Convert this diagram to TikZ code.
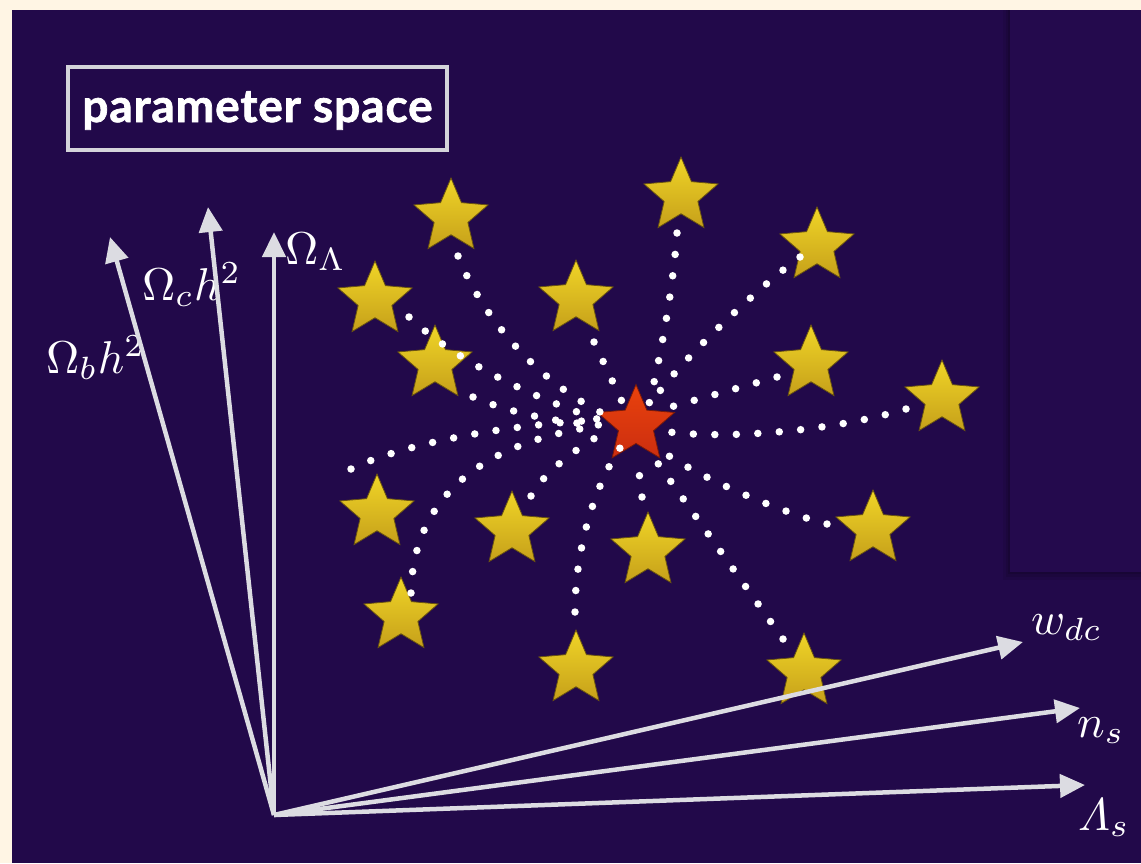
\documentclass[tikz,border=0pt]{standalone}
\usepackage{amsmath}
\usepackage{graphicx}
\usepackage{fontspec}
\usetikzlibrary{shapes.geometric,arrows.meta,calc}
\newfontfamily\titlefont{Lato}[LetterSpace=2.0, FakeBold=1.6]
\newcommand{\bigmath}[1]{\scalebox{4.6}{$#1$}}
\definecolor{cream}{HTML}{FFF5E4}
\definecolor{bgpurple}{HTML}{22094A}
\definecolor{panelpurple}{HTML}{240A4D}
\definecolor{axisgray}{HTML}{DCDCE2}
\definecolor{boxgray}{HTML}{D4D4DA}
\definecolor{starTop}{HTML}{F0D527}
\definecolor{starBot}{HTML}{C6A01A}
\definecolor{starEdge}{HTML}{6B5410}
\definecolor{redTop}{HTML}{E9420C}
\definecolor{redBot}{HTML}{CC2E10}
\definecolor{redEdge}{HTML}{7A1A08}
\begin{document}
\begin{tikzpicture}[x=1pt,y=-1pt,
  ystar/.style={star, star points=5, star point ratio=2.2, minimum size=78pt, inner sep=0pt,
    top color=starTop, bottom color=starBot, draw=starEdge, line width=0.8pt},
  rstar/.style={ystar, minimum size=81pt, top color=redTop, bottom color=redBot, draw=redEdge},
  dots/.style={white, line width=7.5pt, line cap=round, dash pattern=on 0pt off 21.5pt},
  axis/.style={axisgray, line width=4.5pt, -{Triangle[length=25pt,width=23pt]}},
  axlabel/.style={text=white, inner sep=0pt, font=\fontsize{10}{12}\selectfont},
  titlebox/.style={draw=boxgray, line width=4pt, minimum width=379pt, minimum height=83pt, inner sep=0pt},
  titletext/.style={text=white, inner sep=0pt, font=\titlefont\bfseries\fontsize{46}{54}\selectfont},
]
\useasboundingbox (0,0) rectangle (1141,863);
\fill[cream] (0,0) rectangle (1141,863);
\fill[bgpurple] (12,10) rectangle (1141,863);
% right panel with soft shadow
\fill[black, opacity=0.07] (1003,10) rectangle (1141,580);
\fill[black, opacity=0.09] (1006,10) rectangle (1141,577);
\fill[black, opacity=0.12] (1008,10) rectangle (1141,574);
\fill[panelpurple] (1010,10) rectangle (1141,572);
% title
\node[titlebox] (title) at (257.5,108.5) {};
\node[titletext, anchor=base] (titletxt) at (257.5,122) {parameter space};
% stars
\node[ystar] (A) at (451,217) {};
\node[ystar] (E) at (681,196) {};
\node[ystar] (F) at (817,246) {};
\node[ystar] (B) at (375,300) {};
\node[ystar] (C) at (576,299) {};
\node[ystar] (D) at (435,364) {};
\node[ystar] (G) at (811,364) {};
\node[ystar] (H) at (942,399) {};
\node[ystar] (I) at (377,513) {};
\node[ystar] (J) at (512,530) {};
\node[ystar] (N) at (873,529) {};
\node[ystar] (K) at (401,616) {};
\node[ystar] (M) at (648,551) {};
\node[ystar] (L) at (576,669) {};
\node[ystar] (O) at (804,672) {};
\node[rstar] (R) at (636,425) {};
% axis labels
\node[axlabel, anchor=base west] (lOL) at (285,264) {\bigmath{\Omega_\Lambda}};
\node[axlabel, anchor=base west] (lOc) at (142,300) {\bigmath{\Omega_c h^2}};
\node[axlabel, anchor=base west] (lOb) at (46,373) {\bigmath{\Omega_b h^2}};
\node[axlabel, anchor=base west] (lw) at (1031,634) {\bigmath{w_{dc}}};
\node[axlabel, anchor=base west] (ln) at (1077,737) {\bigmath{n_s}};
\node[axlabel, anchor=base west] (lL) at (1078,830) {\bigmath{\varLambda_s}};
% axes
\coordinate (O0) at (274,815);
\coordinate (tOb) at (110,237);
\coordinate (tOc) at (208,207);
\coordinate (tOL) at (274,232);
\coordinate (tw) at (1023,642);
\coordinate (tn) at (1080,708);
\coordinate (tL) at (1085,785);
\draw[axis] (O0) -- (tOb);
\draw[axis] (O0) -- (tOc);
\draw[axis] (O0) -- (tOL);
\draw[axis] (O0) -- (tw);
\draw[axis] (O0) -- (tn);
\draw[axis] (O0) -- (tL);
% dotted connectors
\draw[dots] ($(A)+(7,39)$) .. controls (484,321) and (540,382) .. ($(R)+(-34,-12)$);
\draw[dots] ($(B)+(34,17)$) .. controls (459,364) and (540,400) .. ($(R)+(-36,-5)$);
\draw[dots] ($(D)+(38,33)$) .. controls (510,413) and (560,423) .. ($(R)+(-36,0)$);
\draw[dots] ($(C)+(18,43)$) -- ($(R)+(-11,-17)$);
\draw[dots] ($(E)+(-4,37)$) .. controls (673,290) and (660,360) .. ($(R)+(12,-17)$);
\draw[dots] ($(F)+(-17,11)$) .. controls (760,286) and (675,365) .. ($(R)+(14,-20)$);
\draw[dots] ($(G)+(-34,13)$) -- ($(R)+(24,-15)$);
\draw[dots] ($(H)+(-36,10)$) .. controls (830,432) and (720,440) .. ($(R)+(26,6)$);
\draw[dots] ($(N)+(-46,-5)$) .. controls (780,512) and (700,478) .. ($(R)+(24,25)$);
\draw[dots] ($(O)+(-21,-33)$) -- ($(R)+(16,30)$);
\draw[dots] ($(M)+(-6,-54)$) -- ($(R)+(1,30)$);
\draw[dots] ($(L)+(-1,-57)$) .. controls (575,555) and (592,490) .. ($(R)+(-16,23)$);
\draw[dots] ($(K)+(10,-23)$) .. controls (413,495) and (485,442) .. ($(R)+(-38,1)$);
\draw[dots] ($(I)+(-26,-44)$) .. controls (400,445) and (500,425) .. ($(R)+(-36,-5)$);
\draw[dots] ($(J)+(19,-34)$) .. controls (545,470) and (585,442) .. ($(R)+(-26,5)$);
\end{tikzpicture}
\end{document}
